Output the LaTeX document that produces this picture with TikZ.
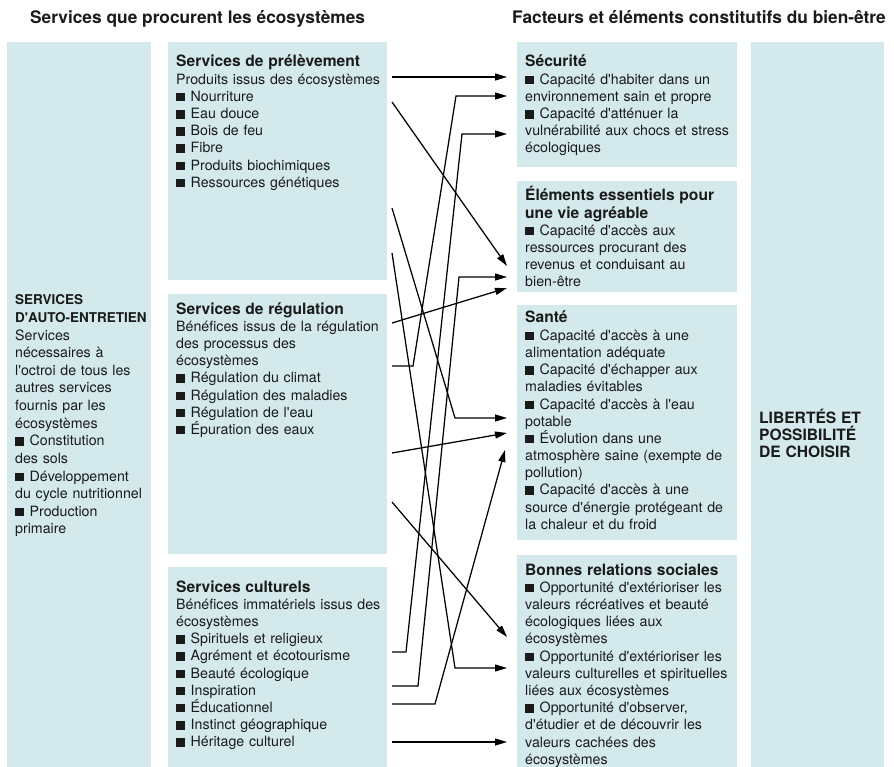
\documentclass[tikz,border=0pt]{standalone}
\usepackage{fontspec}
\setmainfont{TeX Gyre Heros}[Ligatures=TeXOff]
\usetikzlibrary{arrows.meta}
\definecolor{boxfill}{RGB}{211,233,236}
\definecolor{inkdark}{RGB}{26,26,26}
% black square bullet
\newcommand\sqb{\rule{8.5pt}{8.5pt}\hspace{6pt}}
% bold headings inside the panels
\newcommand\ttl[1]{{\fontsize{15.6}{17.2}\selectfont\bfseries #1}}
\newcommand\capttl[1]{{\fontsize{13.5}{17.2}\selectfont\bfseries #1}}
\newcommand\bigcapttl[1]{{\fontsize{15.6}{17.2}\selectfont\bfseries #1}}
\lineskiplimit=-8pt

\begin{document}
\begin{tikzpicture}[x=1pt,y=-1pt,
  panel/.style={fill=boxfill, draw=none, inner sep=0pt, outer ysep=0pt, anchor=north},
  midpanel/.style={panel, minimum width=219pt, outer xsep=5pt},
  rightpanel/.style={panel, minimum width=220pt, outer xsep=10pt},
  txt/.style={inner sep=0pt, anchor=base west, align=left, text width=#1, text=inkdark,
    font=\fontsize{14.2}{17.2}\selectfont},
  header/.style={inner sep=0pt, anchor=base west, text=inkdark,
    font=\fontsize{17.3}{20}\selectfont\bfseries},
  arr/.style={line width=1.25pt, draw=black, -{Triangle[length=12pt,width=7pt]}}
]
\useasboundingbox (0,0) rectangle (894,767);

% column headers
\node[header] (hl) at (30,24) {Services que procurent les écosystèmes};
\node[header] (hr) at (512,24) {Facteurs et éléments constitutifs du bien-être};

% panels
\node[panel, minimum width=144pt, minimum height=725pt] (L) at (79,42) {};
\node[midpanel, minimum height=238pt] (P) at (277.5,42) {};
\node[midpanel, minimum height=260pt] (R) at (277.5,294) {};
\node[midpanel, minimum height=200pt] (C) at (277.5,567) {};
\node[rightpanel, minimum height=125pt] (S) at (627,42) {};
\node[rightpanel, minimum height=111pt] (E) at (627,181) {};
\node[rightpanel, minimum height=235pt] (H) at (627,305) {};
\node[rightpanel, minimum height=212pt] (B) at (627,555) {};
\node[panel, minimum width=133pt, minimum height=725pt] (F) at (817.5,42) {};

% panel texts
\node[txt=140pt, font=\fontsize{14.2}{17.6}\selectfont] (Lt) at (15,305) {\capttl{SERVICES}\\ \capttl{D'AUTO-ENTRETIEN}\\
  Services\\ nécessaires à\\ l'octroi de tous les\\ autres services\\ fournis par les\\
  écosystèmes\\ \sqb Constitution\\ des sols\\ \sqb Développement\\
  du cycle nutritionnel\\ \sqb Production\\ primaire};

\node[txt=215pt] (Pt) at (176,67) {\ttl{Services de prélèvement}\\
  Produits issus des écosystèmes\\ \sqb Nourriture\\ \sqb Eau douce\\
  \sqb Bois de feu\\ \sqb Fibre\\ \sqb Produits biochimiques\\ \sqb Ressources génétiques};

\node[txt=215pt] (Rt) at (176,314) {\ttl{Services de régulation}\\
  Bénéfices issus de la régulation\\ des processus des\\ écosystèmes\\
  \sqb Régulation du climat\\ \sqb Régulation des maladies\\
  \sqb Régulation de l'eau\\ \sqb Épuration des eaux};

\node[txt=215pt] (Ct) at (176,592) {\ttl{Services culturels}\\
  Bénéfices immatériels issus des\\ écosystèmes\\ \sqb Spirituels et religieux\\
  \sqb Agrément et écotourisme\\ \sqb Beauté écologique\\ \sqb Inspiration\\
  \sqb Éducationnel\\ \sqb Instinct géographique\\ \sqb Héritage culturel};

\node[txt=215pt] (St) at (525,67) {\ttl{Sécurité}\\
  \sqb Capacité d'habiter dans un\\ environnement sain et propre\\
  \sqb Capacité d'atténuer la\\ vulnérabilité aux chocs et stress\\ écologiques};

\node[txt=215pt] (Et) at (525,201) {\ttl{Éléments essentiels pour}\\ \ttl{une vie agréable}\\
  \sqb Capacité d'accès aux\\ ressources procurant des\\ revenus et conduisant au\\ bien-être};

\node[txt=215pt] (Ht) at (525,323) {\ttl{Santé}\\
  \sqb Capacité d'accès à une\\ alimentation adéquate\\
  \sqb Capacité d'échapper aux\\ maladies évitables\\
  \sqb Capacité d'accès à l'eau\\ potable\\
  \sqb Évolution dans une\\ atmosphère saine (exempte de\\ pollution)\\
  \sqb Capacité d'accès à une\\ source d'énergie protégeant de\\ la chaleur et du froid};

\node[txt=215pt] (Bt) at (525,575) {\ttl{Bonnes relations sociales}\\
  \sqb Opportunité d'extérioriser les\\ valeurs récréatives et beauté\\
  écologiques liées aux\\ écosystèmes\\
  \sqb Opportunité d'extérioriser les\\ valeurs culturelles et spirituelles\\
  liées aux écosystèmes\\
  \sqb Opportunité d'observer,\\ d'étudier et de découvrir les\\
  valeurs cachées des\\ écosystèmes};

\node[txt=125pt] (Ft) at (759,423) {\bigcapttl{LIBERTÉS ET}\\ \bigcapttl{POSSIBILITÉ}\\ \bigcapttl{DE CHOISIR}};

% links from services to well-being
\draw[arr] (P.east |- 0,77) -- (S.west |- 0,77);
\draw[arr] (R.east |- 0,366) -- (413,366) -- (456,96) -- (S.west |- 0,96);
\draw[arr] (C.east |- 0,652) -- (406,652) -- (462,134) -- (S.west |- 0,134);
\draw[arr] (P.east |- 0,102) -- (E.west |- 0,266);
\draw[arr] (C.east |- 0,686) -- (418,686) -- (459,277) -- (E.west |- 0,277);
\draw[arr] (R.east |- 0,323) -- (E.west |- 0,288);
\draw[arr] (P.east |- 0,208) -- (455,418) -- (H.west |- 0,418);
\draw[arr] (R.east |- 0,453) -- (H.west |- 0,433);
\draw[arr] (C.east |- 0,704) -- (435,704) -- ([xshift=-2pt]H.west |- 0,450);
\draw[arr] (R.east |- 0,502) -- (B.west |- 0,637);
\draw[arr] (P.east |- 0,253) -- (455,668) -- (B.west |- 0,668);
\draw[arr] (C.east |- 0,742) -- (B.west |- 0,742);
\end{tikzpicture}
\end{document}
